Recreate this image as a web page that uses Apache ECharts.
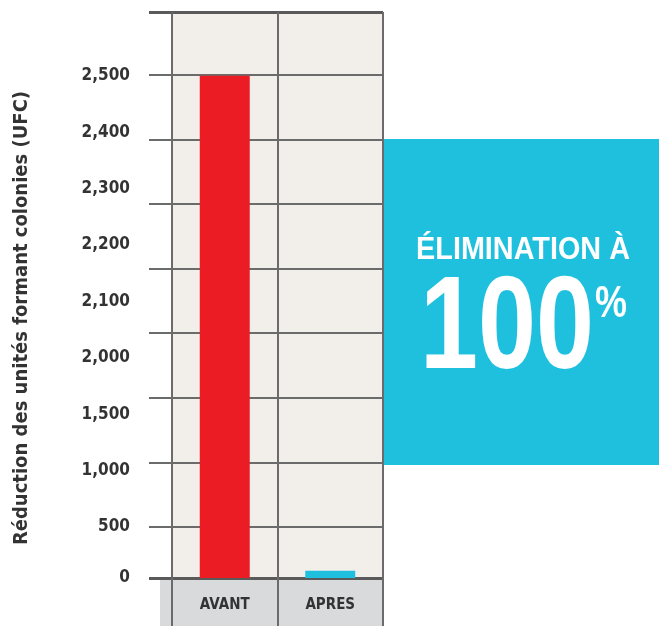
<!DOCTYPE html>
<html><head><meta charset="utf-8">
<script src="https://cdn.jsdelivr.net/npm/echarts@6/dist/echarts.min.js"></script>
<style>html,body{margin:0;padding:0;background:#fff}#c{width:659px;height:626px}</style>
</head><body><div id="c"></div>
<script>
// ---- data ----
const categories = ['AVANT', 'APRES'];
const values = [2500, 70];
const tickValues = [0, 500, 1000, 1500, 2000, 2100, 2200, 2300, 2400, 2500];
const tickLabels = ['0', '500', '1,000', '1,500', '2,000', '2,100', '2,200', '2,300', '2,400', '2,500'];
const barColors = ['#ec1c24', '#1fc0de'];
const axisTitle = 'Réduction des unités formant colonies (UFC)';
const calloutLine1 = 'ÉLIMINATION À';
const calloutValue = '100';
const calloutUnit = '%';

// ---- layout of the printed (non-linear) value scale, px from plot bottom ----
const PLOT_H = 566;
const FIRST_STEP = 51;
const LABEL_STEP = 56.4;
const GRID_STEP = 64.6;
const labelPos = tickValues.map((v, i) => i === 0 ? 0 : FIRST_STEP + (i - 1) * LABEL_STEP);
const gridPos = [0];
for (let p = FIRST_STEP; p < PLOT_H - 3; p += GRID_STEP) gridPos.push(+p.toFixed(2));

function scale(v) {
  for (let i = 1; i < tickValues.length; i++) {
    if (v <= tickValues[i]) {
      const t = (v - tickValues[i - 1]) / (tickValues[i] - tickValues[i - 1]);
      return labelPos[i - 1] + t * (labelPos[i] - labelPos[i - 1]);
    }
  }
  return labelPos[labelPos.length - 1];
}
function labelFor(val) {
  let best = 0, d = Infinity;
  labelPos.forEach((p, i) => { if (Math.abs(p - val) < d) { d = Math.abs(p - val); best = i; } });
  return tickLabels[best];
}

const FONT = 'DejaVu Sans Condensed';
const LINE = '#6b6b6b';
const chart = echarts.init(document.getElementById('c'));
chart.setOption({
  animation: false,
  backgroundColor: '#ffffff',
  grid: { left: 172, right: 276, top: 12, bottom: 48, show: true, backgroundColor: '#f2efea', borderWidth: 0 },
  xAxis: {
    type: 'category', data: categories,
    axisLine: { show: false },
    axisTick: { show: true, length: 48, interval: 0, lineStyle: { color: LINE, width: 2 } },
    splitLine: { show: true, interval: 0, lineStyle: { color: LINE, width: 2 } },
    axisLabel: { margin: 20, color: '#333', fontFamily: FONT, fontWeight: 'bold', fontSize: 15 }
  },
  yAxis: [
    {
      type: 'value', min: 0, max: PLOT_H, position: 'left',
      axisLine: { show: false }, axisTick: { show: false }, splitLine: { show: false },
      axisLabel: { customValues: labelPos, formatter: labelFor, margin: 42, color: '#333',
        fontFamily: FONT, fontWeight: 'bold', fontSize: 17 }
    },
    {
      type: 'value', min: 0, max: PLOT_H, position: 'left',
      axisLine: { show: false }, axisLabel: { show: false },
      axisTick: { show: true, customValues: gridPos, length: 23, lineStyle: { color: LINE, width: 2 } },
      splitLine: { show: true, lineStyle: { color: LINE, width: 2 } }
    },
    {
      type: 'value', min: 0, max: PLOT_H, position: 'left',
      axisLine: { show: false }, axisLabel: { show: false },
      axisTick: { show: true, customValues: [0, PLOT_H], length: 23, lineStyle: { color: '#5a5a5a', width: 3 } },
      splitLine: { show: true, lineStyle: { color: '#5a5a5a', width: 3 } }
    }
  ],
  series: [{
    type: 'bar', barWidth: 50, z: 3,
    data: values.map((v, i) => ({ value: scale(v), itemStyle: { color: barColors[i] } }))
  }],
  graphic: [
    { type: 'rect', z: -1, silent: true, shape: { x: 160, y: 580, width: 223, height: 46 }, style: { fill: '#d9dadc' } },
    { type: 'text', silent: true, x: 22, y: 318, rotation: Math.PI / 2,
      style: { text: axisTitle, fill: '#333', fontFamily: FONT, fontWeight: 'bold', fontSize: 20, textAlign: 'center', textVerticalAlign: 'middle' } },
    { type: 'rect', silent: true, shape: { x: 384, y: 139, width: 275, height: 326 }, style: { fill: '#1fc0de' } },
    { type: 'text', silent: true, x: 523, y: 250, scaleX: 0.9,
      style: { text: calloutLine1, fill: '#fff', fontFamily: 'Liberation Sans', fontWeight: 'bold', fontSize: 32, textAlign: 'center', textVerticalAlign: 'middle' } },
    { type: 'text', silent: true, x: 507, y: 332, scaleX: 0.79,
      style: { text: calloutValue, fill: '#fff', fontFamily: 'Liberation Sans', fontWeight: 'bold', fontSize: 132, textAlign: 'center', textVerticalAlign: 'middle' } },
    { type: 'text', silent: true, x: 611, y: 305, scaleX: 0.8,
      style: { text: calloutUnit, fill: '#fff', fontFamily: 'Liberation Sans', fontWeight: 'bold', fontSize: 45, textAlign: 'center', textVerticalAlign: 'middle' } }
  ]
});
</script></body></html>
